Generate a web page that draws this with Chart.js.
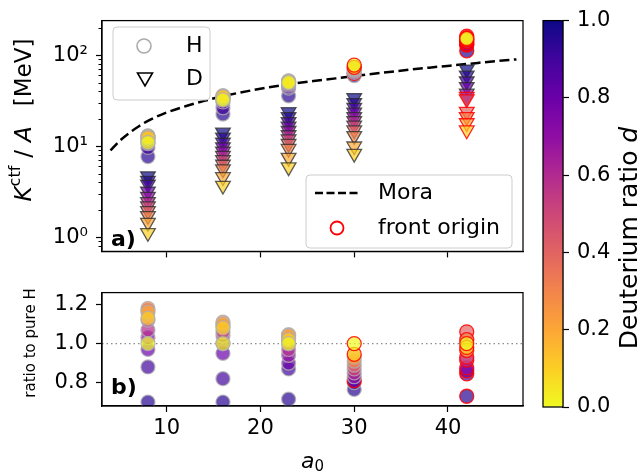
<!DOCTYPE html>
<html>
<head>
<meta charset="utf-8">
<script src="https://cdn.jsdelivr.net/npm/chart.js@4.4.1/dist/chart.umd.min.js"></script>
<style>
  html, body { margin: 0; padding: 0; background: #fff; }
  #wrap { position: relative; width: 643px; height: 474px; }
  canvas { position: absolute; }
</style>
</head>
<body>
<div id="wrap">
  <canvas id="topChart" width="540" height="272" style="left:0;top:0"></canvas>
  <canvas id="bottomChart" width="540" height="202" style="left:0;top:272px"></canvas>
  <canvas id="cbar" width="113" height="474" style="left:530px;top:0"></canvas>
</div>
<script>
// laser amplitudes and deuterium ratios
const A0 = [8, 16, 23, 30, 42];
const D_VALUES = [0, 0.1, 0.2, 0.3, 0.4, 0.5, 0.6, 0.7, 0.8, 0.9, 0.95, 1.0];

// cutoff energy per nucleon of H (circles), one per d value [MeV]
const KH_8  = [11.0, 12.4, 12.8, 13.0, 12.9, 12.3, 11.8, 11.3, 10.7, 9.7, 7.7, null];
const KH_16 = [32.3, 34.9, 35.5, 35.9, 35.2, 34.2, 33.6, 32.3, 30.7, 26.5, 22.6, null];
const KH_23 = [50.0, 51.0, 52.0, 52.3, 51.5, 50.0, 48.5, 47.0, 45.0, 43.5, 35.8, null];
const KH_30 = [78.0, 73.7, 72.5, 71.0, 69.4, 67.9, 66.3, 64.7, 63.2, 62.4, 59.7, null];
const KH_42 = [153, 150, 147.6, 156, 162.2, 142.3, 140, 133.9, 131.6, 129.3, 111.7, null];

// cutoff energy per nucleon of D (triangles) [MeV]
const KD_8  = [null, 1.12, 1.45, 1.72, 1.95, 2.2, 2.45, 2.8, 3.2, 3.8, 4.2, 4.7];
const KD_16 = [null, 3.7, 4.6, 5.6, 6.3, 7.1, 7.9, 8.8, 9.8, 11.0, 12.5, 14.2];
const KD_23 = [null, 5.9, 7.5, 9.4, 10.7, 12.0, 13.3, 14.8, 16.5, 18.5, 21.0, 23.8];
const KD_30 = [null, 8.3, 10.0, 13.0, 15.0, 17.0, 19.0, 21.0, 23.5, 26.5, 30.0, 34.0];
const KD_42 = [null, 15.0, 18.0, 21.0, 24.0, 33.0, 35.0, 38.0, 45.0, 52.0, 60.0, 70.0];

// H energy relative to pure H target
const RATIO_8  = [1.00, 1.13, 1.16, 1.18, 1.17, 1.12, 1.07, 1.03, 0.97, 0.88, 0.70, null];
const RATIO_16 = [1.00, 1.08, 1.10, 1.11, 1.09, 1.06, 1.04, 1.00, 0.95, 0.82, 0.70, null];
const RATIO_23 = [1.00, 1.02, 1.04, 1.045, 1.03, 1.00, 0.97, 0.94, 0.90, 0.87, 0.715, null];
const RATIO_30 = [1.00, 0.945, 0.93, 0.91, 0.89, 0.87, 0.85, 0.83, 0.81, 0.80, 0.765, null];
const RATIO_42 = [1.00, 0.98, 0.965, 1.02, 1.06, 0.93, 0.915, 0.875, 0.86, 0.845, 0.73, null];

// front origin flags (1 = ions come from the target front)
const NO_FRONT   = [0, 0, 0, 0, 0, 0, 0, 0, 0, 0, 0, 0];
const FRONT_H_30 = [1, 1, 0, 0, 0, 0, 0, 0, 1, 0, 0, 0];
const FRONT_H_42 = [1, 1, 1, 1, 1, 1, 1, 1, 1, 1, 1, 0];
const FRONT_D_42 = [0, 1, 1, 1, 1, 1, 1, 0, 0, 0, 0, 0];

// Mora model curve
const MORA_A0 = [4, 5, 6, 7, 8, 10, 12, 14, 16, 19, 23, 27, 30, 34, 38, 42, 45, 47.3];
const MORA_K  = [9.0, 11.5, 14.0, 16.5, 19.0, 23.5, 27.5, 31.5, 35.5, 41, 48, 54, 59, 66, 73, 80, 86, 90];

const TICK_X = [10, 20, 30, 40];
const TICK_LOG = [1, 10, 100];
const LOG_LABELS = ['10\u2070', '10\u00b9', '10\u00b2'];
const TICK_RATIO = [0.8, 1.0, 1.2];

const KH = [KH_8, KH_16, KH_23, KH_30, KH_42];
const KD = [KD_8, KD_16, KD_23, KD_30, KD_42];
const RATIO = [RATIO_8, RATIO_16, RATIO_23, RATIO_30, RATIO_42];
const FRONT_H = [NO_FRONT, NO_FRONT, NO_FRONT, FRONT_H_30, FRONT_H_42];
const FRONT_D = [NO_FRONT, NO_FRONT, NO_FRONT, NO_FRONT, FRONT_D_42];

// plasma colormap, reversed below (d=0 yellow, d=1 dark blue)
const PLASMA = ['#0d0887', '#41049d', '#6a00a8', '#8f0da4', '#b12a90', '#cc4778',
                '#e16462', '#f2844b', '#fca636', '#fcce25', '#f0f921'];

function hexRgb(h) {
  return [parseInt(h.slice(1, 3), 16), parseInt(h.slice(3, 5), 16), parseInt(h.slice(5, 7), 16)];
}
function plasmaR(d, alpha) {
  const t = (1 - d) * (PLASMA.length - 1);
  const i = Math.min(Math.floor(t), PLASMA.length - 2);
  const f = t - i;
  const a = hexRgb(PLASMA[i]), b = hexRgb(PLASMA[i + 1]);
  const c = a.map((v, k) => Math.round(v + (b[k] - v) * f));
  return `rgba(${c[0]},${c[1]},${c[2]},${alpha})`;
}

const FONT = 'DejaVu Sans';
const X_MIN = 3.1, X_MAX = 48.0;

function markerSet(a0, values, front, style) {
  const idx = D_VALUES.map((d, k) => k).reverse().filter(k => values[k] != null);
  return {
    type: 'scatter',
    data: idx.map(k => ({ x: a0, y: values[k] })),
    pointStyle: style === 'D' ? 'triangle' : 'circle',
    pointRotation: style === 'D' ? 180 : 0,
    pointRadius: style === 'D' ? 8.5 : 7,
    pointHoverRadius: style === 'D' ? 8.5 : 7,
    pointBorderWidth: 1.3,
    pointBackgroundColor: idx.map(k => plasmaR(D_VALUES[k], 0.7)),
    pointBorderColor: idx.map(k => front[k] ? 'rgba(255,0,0,0.85)' :
      (style === 'D' ? 'rgba(40,40,40,0.75)' : 'rgba(175,175,175,0.8)')),
    showLine: false
  };
}

function fixedTicks(values) {
  return scale => { scale.ticks = values.map(v => ({ value: v })); };
}

function frame(chart) {
  const { ctx, chartArea: a } = chart;
  ctx.save();
  ctx.strokeStyle = '#000';
  ctx.lineWidth = 1.25;
  ctx.strokeRect(a.left, a.top, a.right - a.left, a.bottom - a.top);
  ctx.restore();
}

// draws pieces of text one after another, centred on (cx, cy)
function drawRich(ctx, parts, cx, cy, rot) {
  ctx.save();
  ctx.translate(cx, cy);
  ctx.rotate(rot);
  ctx.textBaseline = 'middle';
  ctx.fillStyle = '#000';
  let w = 0;
  parts.forEach(p => { ctx.font = p.font; p.w = p.gap != null ? p.gap : ctx.measureText(p.t).width; w += p.w; });
  let x = -w / 2;
  parts.forEach(p => {
    if (p.t) { ctx.font = p.font; ctx.fillText(p.t, x, p.dy || 0); }
    x += p.w;
  });
  ctx.restore();
}

function legendBox(ctx, x, y, w, h) {
  ctx.save();
  ctx.beginPath();
  ctx.roundRect(x, y, w, h, 4);
  ctx.fillStyle = 'rgba(255,255,255,0.8)';
  ctx.fill();
  ctx.strokeStyle = '#cccccc';
  ctx.lineWidth = 1;
  ctx.stroke();
  ctx.restore();
}

const topPlugin = {
  id: 'topDeco',
  afterDatasetsDraw(chart) {
    const ctx = chart.ctx;
    const y = chart.scales.y;
    const left = chart.chartArea.left;
    // minor log ticks
    ctx.save();
    ctx.strokeStyle = '#000';
    ctx.lineWidth = 1;
    [0.8, 0.9, 2, 3, 4, 5, 6, 7, 8, 9, 20, 30, 40, 50, 60, 70, 80, 90, 200].forEach(v => {
      const p = Math.round(y.getPixelForValue(v)) + 0.5;
      ctx.beginPath();
      ctx.moveTo(left, p);
      ctx.lineTo(left - 3.5, p);
      ctx.stroke();
    });
    ctx.restore();

    // legend H / D
    legendBox(ctx, 113, 27, 97, 73);
    ctx.save();
    ctx.lineWidth = 1.6;
    ctx.strokeStyle = '#aaaaaa';
    ctx.beginPath();
    ctx.arc(144, 46, 7, 0, Math.PI * 2);
    ctx.stroke();
    ctx.strokeStyle = '#000';
    ctx.beginPath();
    ctx.moveTo(137.5, 73); ctx.lineTo(152.5, 73); ctx.lineTo(145, 86); ctx.closePath();
    ctx.stroke();
    ctx.fillStyle = '#000';
    ctx.font = `22px ${FONT}`;
    ctx.textBaseline = 'middle';
    ctx.fillText('H', 186, 46);
    ctx.fillText('D', 186, 79);
    ctx.restore();

    // legend Mora / front origin
    legendBox(ctx, 306, 175, 206, 73);
    ctx.save();
    ctx.lineWidth = 2.5;
    ctx.setLineDash([8, 3.5]);
    ctx.strokeStyle = '#000';
    ctx.beginPath();
    ctx.moveTo(315, 193); ctx.lineTo(358, 193);
    ctx.stroke();
    ctx.setLineDash([]);
    ctx.lineWidth = 1.8;
    ctx.strokeStyle = '#ff0000';
    ctx.beginPath();
    ctx.arc(337, 228, 6.5, 0, Math.PI * 2);
    ctx.stroke();
    ctx.fillStyle = '#000';
    ctx.font = `22px ${FONT}`;
    ctx.textBaseline = 'middle';
    ctx.fillText('Mora', 378, 193);
    ctx.fillText('front origin', 378, 228);
    ctx.font = `bold 22px ${FONT}`;
    ctx.fillText('a)', 111, 240);
    ctx.restore();

    frame(chart);

    drawRich(ctx, [
      { t: 'K', font: `italic 23px ${FONT}` },
      { t: 'ctf', font: `16px ${FONT}`, dy: -9 },
      { gap: 8 },
      { t: '/', font: `23px ${FONT}` },
      { gap: 8 },
      { t: 'A', font: `italic 23px ${FONT}` },
      { gap: 20 },
      { t: '[MeV]', font: `23px ${FONT}` }
    ], 25, 120, -Math.PI / 2);
  }
};

const bottomPlugin = {
  id: 'bottomDeco',
  afterDatasetsDraw(chart) {
    const ctx = chart.ctx;
    frame(chart);
    ctx.save();
    ctx.fillStyle = '#000';
    ctx.font = `bold 22px ${FONT}`;
    ctx.textBaseline = 'middle';
    ctx.fillText('b)', 111, 116);
    ctx.restore();
    drawRich(ctx, [{ t: 'ratio to pure H', font: `15px ${FONT}` }], 31, 71, -Math.PI / 2);
    drawRich(ctx, [
      { t: 'a', font: `italic 22px ${FONT}` },
      { t: '0', font: `15px ${FONT}`, dy: 5 }
    ], 312.5, 190, 0);
  }
};

const cbarPlugin = {
  id: 'cbarDeco',
  afterDatasetsDraw(chart) {
    frame(chart);
    drawRich(chart.ctx, [
      { t: 'Deuterium ratio ', font: `25px ${FONT}` },
      { t: 'd', font: `italic 25px ${FONT}` }
    ], 100, 238, -Math.PI / 2);
  }
};

const tickFont = { family: FONT, size: 21 };
const axisGrid = { drawOnChartArea: false, tickLength: 6, color: '#000', tickWidth: 1.2 };

// ---------- top panel ----------
const topSets = [];
A0.forEach((a, i) => {
  topSets.push(markerSet(a, KH[i], FRONT_H[i], 'H'));
  topSets.push(markerSet(a, KD[i], FRONT_D[i], 'D'));
});
topSets.push({
  type: 'line',
  data: MORA_A0.map((x, k) => ({ x, y: MORA_K[k] })),
  borderColor: '#000',
  borderWidth: 2.5,
  borderDash: [10, 4.5],
  pointRadius: 0,
  cubicInterpolationMode: 'monotone',
  fill: false
});

new Chart(document.getElementById('topChart'), {
  type: 'scatter',
  data: { datasets: topSets },
  options: {
    responsive: false,
    animation: false,
    events: [],
    layout: { padding: { top: 16, right: 17, left: 0, bottom: 0 } },
    plugins: { legend: { display: false }, tooltip: { enabled: false } },
    scales: {
      x: {
        type: 'linear', min: X_MIN, max: X_MAX,
        afterBuildTicks: fixedTicks(TICK_X),
        afterFit: s => { s.height = 13; },
        ticks: { display: false },
        grid: axisGrid,
        border: { color: '#000', width: 1.2 }
      },
      y: {
        type: 'logarithmic', min: 0.716, max: 240,
        afterBuildTicks: fixedTicks(TICK_LOG),
        afterFit: s => { s.width = 102; },
        ticks: {
          font: tickFont, color: '#000', padding: 8,
          callback: v => LOG_LABELS[TICK_LOG.indexOf(v)]
        },
        grid: axisGrid,
        border: { color: '#000', width: 1.2 }
      }
    }
  },
  plugins: [topPlugin]
});

// ---------- bottom panel ----------
const bottomSets = [];
A0.forEach((a, i) => {
  bottomSets.push(markerSet(a, RATIO[i], FRONT_H[i], 'H'));
});
bottomSets.push({
  type: 'line',
  data: [{ x: X_MIN, y: 1.0 }, { x: X_MAX, y: 1.0 }],
  borderColor: 'rgba(128,128,128,0.9)',
  borderWidth: 1.2,
  borderDash: [1.5, 3],
  pointRadius: 0,
  fill: false
});

new Chart(document.getElementById('bottomChart'), {
  type: 'scatter',
  data: { datasets: bottomSets },
  options: {
    responsive: false,
    animation: false,
    events: [],
    layout: { padding: { top: 13, right: 17, left: 0, bottom: 0 } },
    plugins: { legend: { display: false }, tooltip: { enabled: false } },
    scales: {
      x: {
        type: 'linear', min: X_MIN, max: X_MAX,
        afterBuildTicks: fixedTicks(TICK_X),
        afterFit: s => { s.height = 68; },
        ticks: { font: tickFont, color: '#000', padding: 4, maxRotation: 0 },
        grid: axisGrid,
        border: { color: '#000', width: 1.2 }
      },
      y: {
        type: 'linear', min: 0.68, max: 1.261,
        afterBuildTicks: fixedTicks(TICK_RATIO),
        afterFit: s => { s.width = 102; },
        ticks: { font: tickFont, color: '#000', padding: 8, callback: v => v.toFixed(1) },
        grid: axisGrid,
        border: { color: '#000', width: 1.2 }
      }
    }
  },
  plugins: [bottomPlugin]
});

// ---------- colorbar ----------
const CBAR_TICKS = [0, 0.2, 0.4, 0.6, 0.8, 1.0];
new Chart(document.getElementById('cbar'), {
  type: 'bar',
  data: {
    labels: ['d'],
    datasets: [{
      data: [[0, 1]],
      categoryPercentage: 1,
      barPercentage: 1,
      borderWidth: 0,
      backgroundColor: ctx => {
        const chart = ctx.chart;
        if (!chart.chartArea) return PLASMA[5];
        const ys = chart.scales.y;
        const g = chart.ctx.createLinearGradient(0, ys.getPixelForValue(0), 0, ys.getPixelForValue(1));
        for (let k = 0; k <= 20; k++) g.addColorStop(k / 20, plasmaR(k / 20, 1));
        return g;
      }
    }]
  },
  options: {
    responsive: false,
    animation: false,
    events: [],
    layout: { padding: { top: 16, left: 13, bottom: 67, right: 0 } },
    plugins: { legend: { display: false }, tooltip: { enabled: false } },
    scales: {
      x: { display: false },
      y: {
        position: 'right', min: 0, max: 1,
        afterBuildTicks: fixedTicks(CBAR_TICKS),
        afterFit: s => { s.width = 80; },
        ticks: { font: tickFont, color: '#000', padding: 8, callback: v => v.toFixed(1) },
        grid: axisGrid,
        border: { color: '#000', width: 1.2 }
      }
    }
  },
  plugins: [cbarPlugin]
});
</script>
</body>
</html>
